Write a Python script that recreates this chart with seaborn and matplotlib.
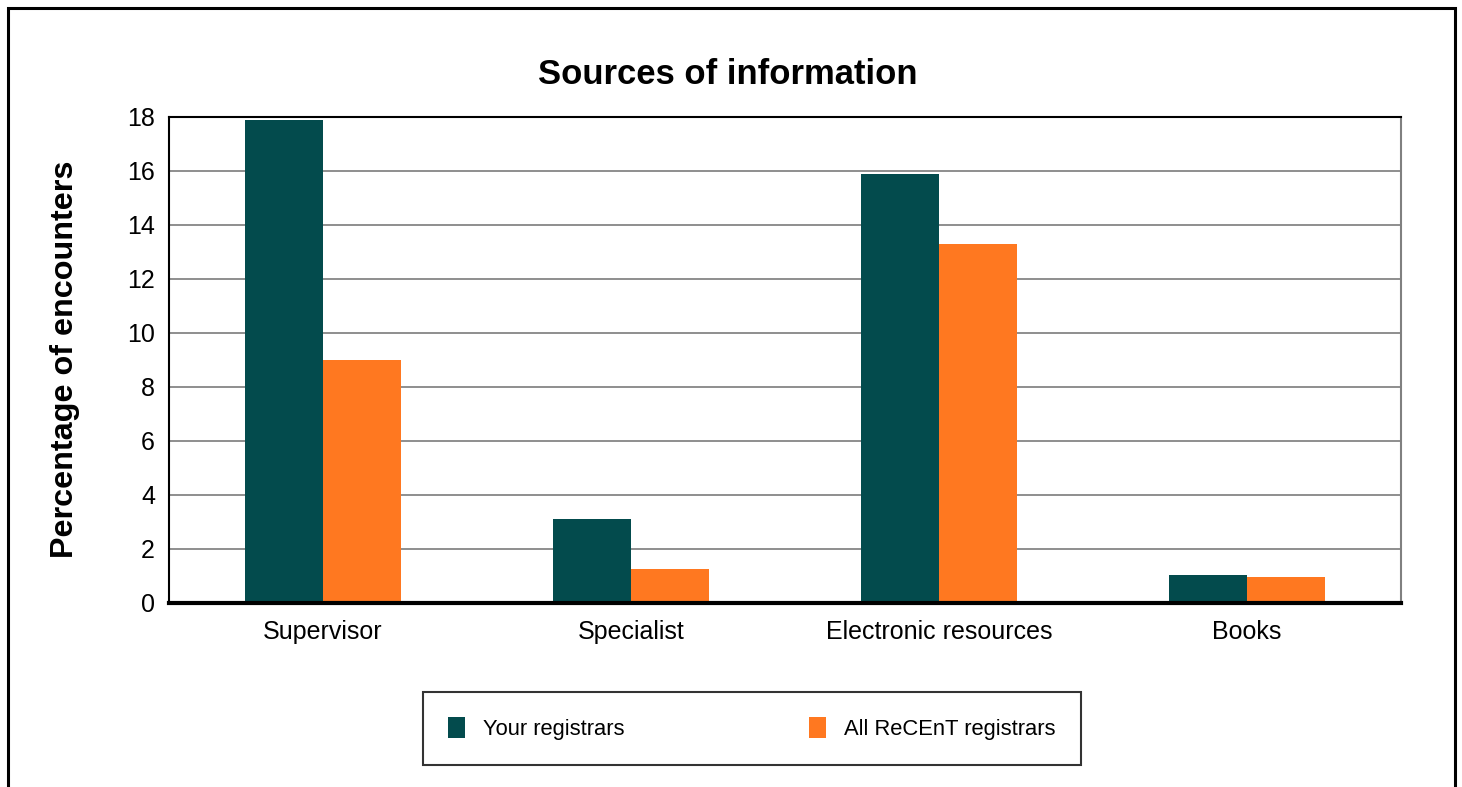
import matplotlib
matplotlib.use("Agg")
import matplotlib.pyplot as plt
import seaborn as sns
import pandas as pd
from matplotlib.patches import Rectangle

categories = ["Supervisor", "Specialist", "Electronic resources", "Books"]
your_registrars = [17.9, 3.1, 15.9, 1.05]
all_registrars = [9.0, 1.27, 13.3, 0.97]
series_names = ["Your registrars", "All ReCEnT registrars"]
y_ticks = [0, 2, 4, 6, 8, 10, 12, 14, 16, 18]

df = pd.DataFrame({
    "Source": categories * 2,
    "Value": your_registrars + all_registrars,
    "Series": [series_names[0]] * len(categories) + [series_names[1]] * len(categories),
})

sns.set_theme(style="white")
plt.rcParams["font.family"] = ["Liberation Sans", "DejaVu Sans"]

fig = plt.figure(figsize=(14.62, 7.87), dpi=100)
ax = fig.add_axes([169/1462, 1-603/787, (1401-169)/1462, (603-117)/787])

palette = {series_names[0]: "#034B4D", series_names[1]: "#FF7820"}
sns.barplot(data=df, x="Source", y="Value", hue="Series", palette=palette,
            width=0.507, saturation=1, ax=ax, zorder=3, linewidth=0)

ax.set_ylim(0, 18)
ax.set_yticks(y_ticks)
ax.set_yticklabels([str(t) for t in y_ticks])
ax.yaxis.grid(True, color="#707070", linewidth=1.1, zorder=0)
ax.set_axisbelow(True)
ax.tick_params(axis="y", length=0, pad=10, labelsize=18, labelcolor="black")
ax.tick_params(axis="x", length=0, pad=12, labelsize=18, labelcolor="black")
ax.set_xlabel("")
ax.set_ylabel("")

for s in ["top", "left"]:
    ax.spines[s].set_color("black")
    ax.spines[s].set_linewidth(1.5)
ax.spines["right"].set_color("#808080")
ax.spines["right"].set_linewidth(1.5)
ax.spines["bottom"].set_color("black")
ax.spines["bottom"].set_linewidth(3)
ax.spines["bottom"].set_zorder(5)

handles, labels = ax.get_legend_handles_labels()
ax.get_legend().remove()
leg = fig.legend(handles, labels, loc="center", bbox_to_anchor=(752/1462, 1-728.5/787),
                 ncol=2, fontsize=15.8, frameon=True, fancybox=False,
                 edgecolor="black", handlelength=0.75, handleheight=1.1,
                 handletextpad=0.85, columnspacing=8.4, borderpad=1.15)
leg.get_frame().set_linewidth(1.5)
for t in leg.get_texts():
    t.set_color("black")

fig.text(728/1462, 1-75/787, "Sources of information", ha="center", va="center",
         fontsize=24.9, fontweight="bold", color="black")
fig.text(65/1462, 1-359/787, "Percentage of encounters", ha="center", va="center",
         rotation=90, fontsize=23.3, fontweight="bold", color="black")

fig.patches.append(Rectangle((8/1462, -0.1), (1447)/1462, 1.1 - 8/787,
                             transform=fig.transFigure, fill=False,
                             edgecolor="black", linewidth=2.2, zorder=10))

fig.savefig("out.png", dpi=100, facecolor="white")
